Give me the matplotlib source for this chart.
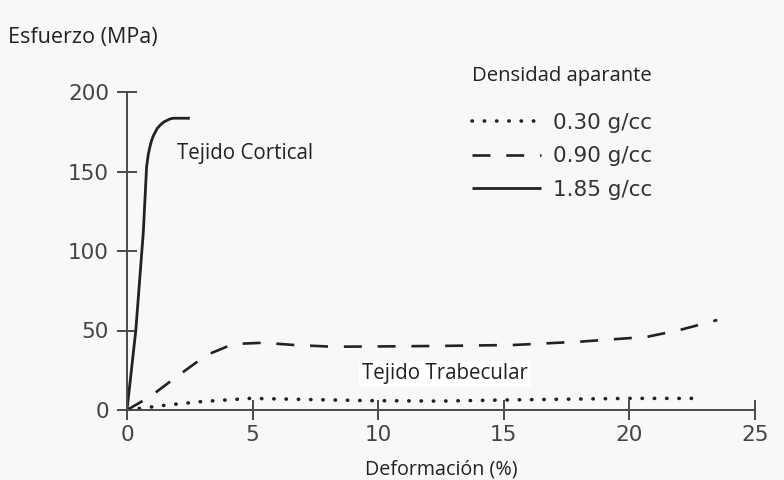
import matplotlib
matplotlib.use("Agg")
import matplotlib.pyplot as plt

# Curvas esfuerzo-deformación
cort_x = [0, 0.35, 0.65, 0.78, 0.85, 0.92, 0.98, 1.05, 1.2, 1.31, 1.45, 1.7, 1.84, 2.5]
cort_y = [0, 50, 112, 153, 161, 166, 169.5, 172.5, 177, 179, 181, 183, 183.5, 183.5]

trab_med_x = [0, 0.92, 1.98, 3.17, 4.23, 5.43, 6.63, 8.2, 10.2, 12.5, 15.4, 18.05, 20.7, 22.0, 23.5]
trab_med_y = [0, 8.4, 21, 34.6, 41.5, 42.3, 40.9, 39.8, 40.0, 40.3, 40.9, 43, 46, 50.3, 56.6]

trab_baja_x = [0, 0.25, 1.58, 2.9, 4.9, 6.9, 9.55, 12.5, 15, 17.5, 20, 22.9]
trab_baja_y = [0, 0.5, 3.1, 5.2, 7.3, 6.7, 5.9, 5.6, 6.3, 6.8, 7.3, 7.3]

labels = ["0.30 g/cc", "0.90 g/cc", "1.85 g/cc"]
xticks = [0, 5, 10, 15, 20, 25]
yticks = [0, 50, 100, 150, 200]

INK = "#222222"
AXC = "#4a4a4a"
BG = "#f8f8f8"
W, H = 784, 480

fig = plt.figure(figsize=(W / 100, H / 100), dpi=100, facecolor=BG)
ax = fig.add_axes([127 / W, 1 - 410 / H, (755 - 127) / W, (410 - 92) / H])
ax.set_facecolor(BG)

l1, = ax.plot(trab_baja_x, trab_baja_y, color=INK, lw=2.6,
              linestyle=(0, (0.1, 3.3)), dash_capstyle="round")
l2, = ax.plot(trab_med_x, trab_med_y, color=INK, lw=1.9,
              linestyle=(0, (6.8, 6.0)))
l3, = ax.plot(cort_x, cort_y, color=INK, lw=2.0, solid_capstyle="butt",
              solid_joinstyle="round")

ax.set_xlim(0, 25)
ax.set_ylim(0, 200)
ax.set_xticks(xticks)
ax.set_yticks(yticks)
for s in ("top", "right"):
    ax.spines[s].set_visible(False)
for s in ("left", "bottom"):
    ax.spines[s].set_color(AXC)
    ax.spines[s].set_linewidth(1.4)
ax.tick_params(axis="both", direction="inout", length=14, width=1.4,
               color=AXC, labelcolor="#444444", labelsize=15.5,
               labelfontfamily="DejaVu Sans")
ax.tick_params(axis="y", pad=6)
ax.tick_params(axis="x", pad=4)

sans = "Open Sans"
fig.text(8 / W, 1 - 38 / H, "Esfuerzo (MPa)", family=sans, fontsize=15.5,
         color=INK, va="center", ha="left")
fig.text(441 / W, 1 - 470 / H, "Deformación (%)", family=sans, fontsize=14.2,
         color=INK, va="center", ha="center")
fig.text(177 / W, 1 - 153 / H, "Tejido Cortical", family=sans, fontsize=14.8,
         color=INK, va="center", ha="left")
fig.text(362 / W, 1 - 374 / H, "Tejido Trabecular", family=sans, fontsize=14.8,
         color=INK, va="center", ha="left",
         bbox=dict(facecolor="white", edgecolor="none", pad=2))
fig.text(472 / W, 1 - 76 / H, "Densidad aparante", family=sans, fontsize=14.6,
         color=INK, va="center", ha="left")

fig.legend([l1, l2, l3], labels, loc="upper left",
           bbox_to_anchor=(472 / W, 1 - 113 / H), frameon=False,
           prop={"family": "DejaVu Sans", "size": 15.5},
           handlelength=3.2, handletextpad=0.55, labelspacing=0.62,
           borderpad=0, borderaxespad=0, labelcolor="#333333")

fig.savefig("out.png", dpi=100, facecolor=BG)
